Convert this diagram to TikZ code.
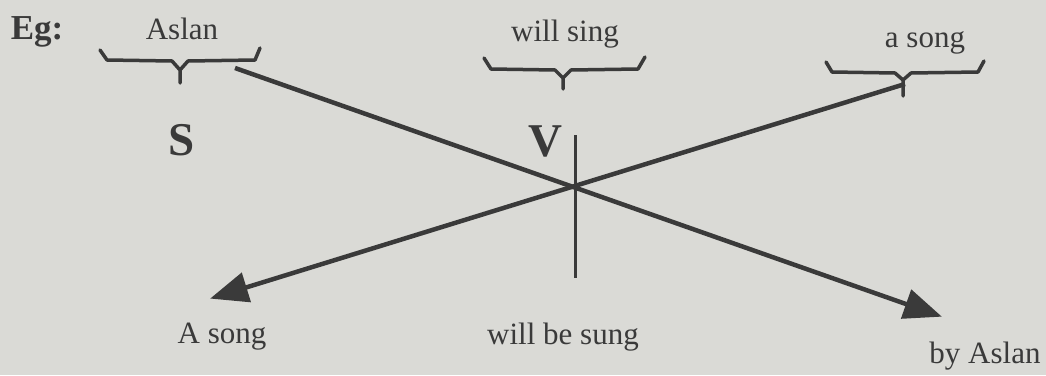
\documentclass[tikz,border=0pt]{standalone}
\usepackage{fontspec}
\setmainfont{Liberation Serif}
\usetikzlibrary{arrows.meta}
\definecolor{paper}{HTML}{DADAD6}
\definecolor{ink}{HTML}{3A3A3A}
\tikzset{
  lbl/.style={text=ink, font=\fontsize{31}{34}\selectfont, inner sep=0pt},
  big/.style={text=ink, font=\fontsize{47}{50}\selectfont\bfseries, inner sep=0pt},
  bracepath/.style={draw=ink, line width=3.5pt, line join=round, line cap=round},
  diag/.style={draw=ink, line width=4.5pt, -{Triangle[length=38pt, width=30pt]}, shorten >=-2pt},
  stem/.style={draw=ink, line width=3pt}
}
\begin{document}
\begin{tikzpicture}[x=1pt, y=-1pt]
\fill[paper] (0,0) rectangle (1046,375);
\useasboundingbox (0,0) rectangle (1046,375);
% labels
\node[text=ink, font=\fontsize{35}{38}\selectfont\bfseries, inner sep=0pt] (eg) at (37,32) {Eg:};
\node[lbl] (aslan) at (182,29) {Aslan};
\node[lbl] (willsing) at (565,34) {will sing};
\node[lbl] (asong) at (925,43) {a song};
\node[big] (S) at (182,140) {S};
\node[big] (V) at (545,141) {V};
\node[lbl] (Asong) at (222,337) {A song};
\node[lbl] (willbesung) at (563,337) {will be sung};
\node[lbl] (byaslan) at (985,356) {by Aslan};
% braces
\draw[bracepath] (100,50) -- (107,60) -- (172,61) -- (180,70) -- (180,83)
  (180,70) -- (188,61) -- (255,60) -- (260,48);
\draw[bracepath] (484,58) -- (491,69) -- (555,70) -- (563,78) -- (563,89)
  (563,78) -- (571,70) -- (638,69) -- (645,57);
\draw[bracepath] (826,62) -- (832,72) -- (895,73) -- (903,80) -- (903,96)
  (903,80) -- (911,73) -- (978,72) -- (984,61);
% connectors
\coordinate (c) at (575,186);
\coordinate (s1) at (235,68);
\coordinate (s2) at (905,84);
\coordinate (t1) at (940,316);
\coordinate (t2) at (212,298);
\draw[stem] (575,135) -- (575,278);
\draw[diag] (s1) -- (t1);
\draw[diag] (s2) -- (t2);
\end{tikzpicture}
\end{document}
